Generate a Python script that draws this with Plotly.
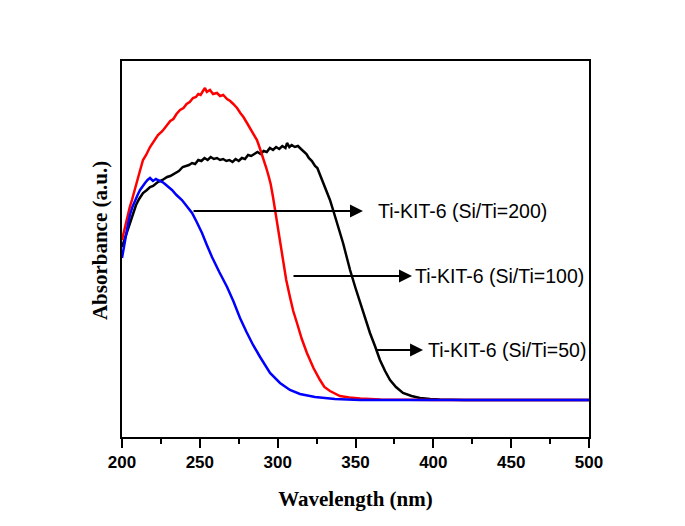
import plotly.graph_objects as go

# Wavelength (nm) / absorbance (a.u.)
wl_50 = [200, 202.6, 205.1, 207, 209, 211, 213.5, 216, 218, 220, 223, 226, 229, 231, 234, 236.5, 239, 241, 243, 245,
         247, 249, 251, 253, 255, 257, 259, 261, 263, 265, 267, 269, 271, 273, 275, 277, 279, 281, 283, 285, 287, 289,
         291, 293, 295, 297, 299, 301, 303, 305, 306, 307.5, 309, 311, 313, 315, 317, 318.5, 320, 322, 324, 325.5, 327,
         329, 331, 333.6, 336, 338, 340, 342, 344, 346.5, 350, 353, 356, 359.3, 362.5, 365.7, 369, 372.2, 376, 380.5,
         386, 391.4, 398, 404, 420, 500]
abs_50 = [1.90, 2.02, 2.14, 2.24, 2.32, 2.38, 2.44, 2.47, 2.50, 2.51, 2.55, 2.57, 2.60, 2.61, 2.64, 2.66, 2.70, 2.71,
          2.72, 2.74, 2.73, 2.77, 2.76, 2.79, 2.77, 2.80, 2.78, 2.79, 2.77, 2.78, 2.76, 2.77, 2.75, 2.78, 2.76, 2.79,
          2.78, 2.82, 2.81, 2.83, 2.85, 2.83, 2.86, 2.85, 2.89, 2.87, 2.90, 2.88, 2.91, 2.89, 2.94, 2.90, 2.92, 2.90,
          2.91, 2.88, 2.85, 2.83, 2.79, 2.76, 2.71, 2.69, 2.63, 2.55, 2.47, 2.37, 2.25, 2.15, 2.05, 1.94, 1.82, 1.67,
          1.49, 1.34, 1.19, 1.04, 0.91, 0.77, 0.66, 0.57, 0.50, 0.44, 0.41, 0.39, 0.38, 0.375, 0.37, 0.37]

wl_100 = [200, 201.5, 203.2, 205, 206.4, 208, 209.6, 211.5, 213.5, 215.5, 218, 220.5, 223.1, 226, 228.9, 231, 233, 235,
          237.3, 239.5, 241.5, 243.5, 245.6, 247.5, 249, 250.5, 252, 253.3, 254.5, 256.5, 258.5, 261, 263, 265, 267.5,
          269.5, 271.5, 273.9, 276, 278, 280.3, 282.5, 284.5, 286.7, 288.5, 290.6, 292.5, 294, 295.5, 297, 298.5,
          300.2, 302, 303.4, 305.5, 307.9, 310, 312.4, 315.5, 318.8, 323, 327.2, 330, 333.6, 337, 340, 346, 353, 366,
          400, 500]
abs_100 = [1.97, 2.08, 2.19, 2.30, 2.37, 2.47, 2.57, 2.66, 2.77, 2.82, 2.90, 2.96, 3.02, 3.06, 3.12, 3.16, 3.18, 3.23,
           3.27, 3.29, 3.33, 3.35, 3.39, 3.40, 3.43, 3.42, 3.46, 3.49, 3.45, 3.47, 3.43, 3.44, 3.41, 3.42, 3.38, 3.36,
           3.33, 3.29, 3.24, 3.20, 3.14, 3.08, 3.03, 2.97, 2.89, 2.80, 2.70, 2.62, 2.53, 2.40, 2.25, 2.07, 1.88, 1.74,
           1.57, 1.40, 1.26, 1.14, 0.98, 0.84, 0.69, 0.57, 0.50, 0.46, 0.43, 0.41, 0.395, 0.385, 0.375, 0.37, 0.37]

wl_200 = [200, 201.3, 202.6, 204, 205.1, 206.7, 208.4, 210, 211.6, 213.2, 214.8, 216.4, 218, 219.9, 221.8, 223, 224.4,
          226, 227.6, 230, 232.1, 235, 238.5, 241.5, 245, 248, 251.4, 254.5, 257.8, 262.5, 267.5, 271.5, 275.8, 280,
          284.2, 288.7, 295.1, 301.5, 307.9, 314.3, 324, 336.8, 352.9, 500]
abs_200 = [1.79, 1.92, 2.02, 2.14, 2.22, 2.30, 2.37, 2.42, 2.47, 2.51, 2.54, 2.57, 2.59, 2.56, 2.58, 2.57, 2.56, 2.55,
           2.53, 2.50, 2.47, 2.42, 2.37, 2.31, 2.24, 2.15, 2.04, 1.92, 1.80, 1.65, 1.50, 1.36, 1.19, 1.05, 0.92, 0.80,
           0.64, 0.54, 0.47, 0.43, 0.40, 0.38, 0.37, 0.37]

labels = ["Ti-KIT-6 (Si/Ti=200)", "Ti-KIT-6 (Si/Ti=100)", "Ti-KIT-6 (Si/Ti=50)"]
x_ticks = [200, 250, 300, 350, 400, 450, 500]

fig = go.Figure()
fig.add_trace(go.Scatter(x=wl_50, y=abs_50, mode="lines", line=dict(color="#000000", width=2.5), name=labels[2]))
fig.add_trace(go.Scatter(x=wl_100, y=abs_100, mode="lines", line=dict(color="#ff0000", width=2.5), name=labels[1]))
fig.add_trace(go.Scatter(x=wl_200, y=abs_200, mode="lines", line=dict(color="#0000ff", width=2.5), name=labels[0]))

# arrows: (tail x, tail y, head x, head y, text x)
arrows = [
    (245.0, 2.26, 354.8, 2.26, 363.2),
    (309.2, 1.61, 386.3, 1.61, 386.9),
    (362.5, 0.87, 393.4, 0.87, 395.3),
]
anns = []
for (tx, ty, hx, hy, lx), lab in zip(arrows, labels):
    anns.append(dict(x=hx, y=hy, ax=tx, ay=ty, xref="x", yref="y", axref="x", ayref="y", text="",
                     showarrow=True, arrowhead=2, arrowsize=1.3, arrowwidth=2, arrowcolor="#000000", standoff=0,
                     startstandoff=0))
    anns.append(dict(x=lx, y=hy, xref="x", yref="y", text=lab, showarrow=False, xanchor="left", yanchor="middle",
                     font=dict(family="Arial, Liberation Sans, sans-serif", size=19.5, color="#000000")))

anns.append(dict(x=0, y=0.521, xref="paper", yref="paper", xshift=-22, text="<b>Absorbance (a.u.)</b>",
                 textangle=-90, showarrow=False, xanchor="center", yanchor="middle",
                 font=dict(family="Times New Roman, Liberation Serif, serif", size=21, color="#000000")))

fig.update_layout(
    width=685, height=526,
    margin=dict(l=114, r=104, t=53, b=97),
    paper_bgcolor="white", plot_bgcolor="white",
    showlegend=False,
    annotations=anns,
    xaxis=dict(
        range=[200, 500], tickvals=x_ticks, ticktext=[str(v) for v in x_ticks],
        ticks="outside", ticklen=9, tickwidth=2, tickcolor="#000000",
        minor=dict(dtick=25, tick0=200, ticks="outside", ticklen=5, tickwidth=2, tickcolor="#000000"),
        showline=True, linewidth=2, linecolor="#000000", mirror=True, showgrid=False, zeroline=False,
        tickfont=dict(family="Arial, Liberation Sans, sans-serif", size=17, color="#000000", weight="bold"),
        title=dict(text="<b>Wavelength (nm)</b>", standoff=20,
                   font=dict(family="Times New Roman, Liberation Serif, serif", size=21, color="#000000")),
    ),
    yaxis=dict(
        range=[0, 3.76], showticklabels=False, ticks="",
        showline=True, linewidth=2, linecolor="#000000", mirror=True, showgrid=False, zeroline=False,
    ),
)

fig.write_html("out.html")
